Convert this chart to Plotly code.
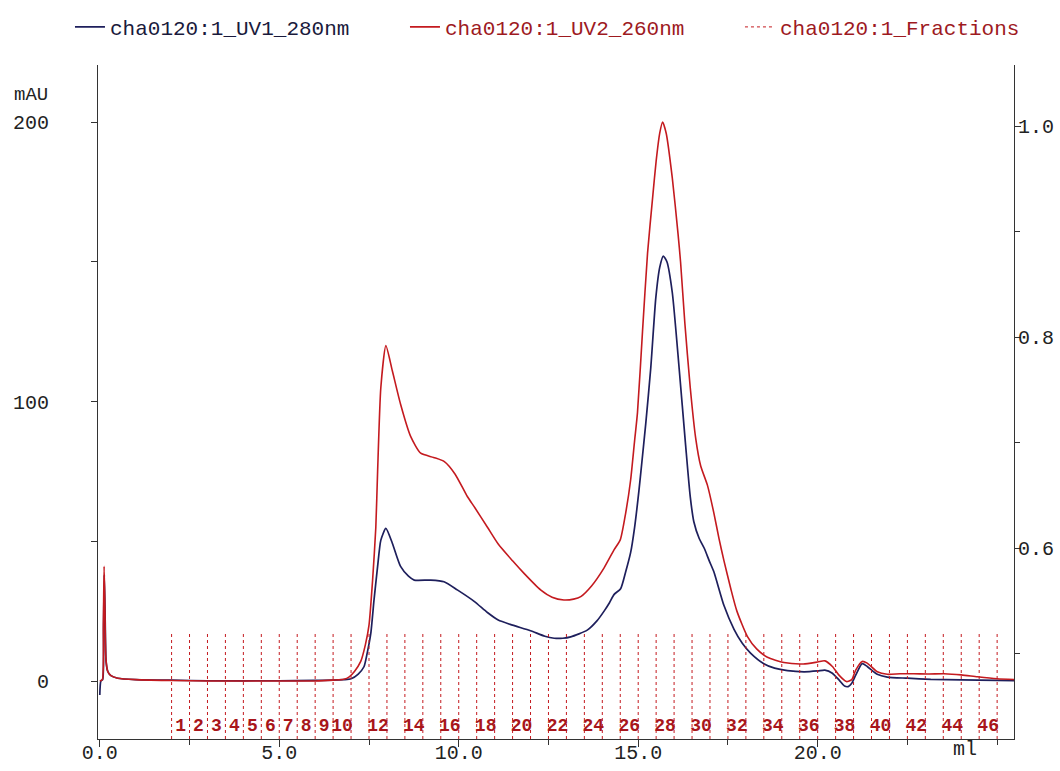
import plotly.graph_objects as go

# ---------------- data ----------------
# UV1 280 nm trace (blue): elution volume (ml) and absorbance (mAU)
uv1_ml = [0.0, 0.03, 0.08, 0.105, 0.125, 0.15, 0.175, 0.22, 0.3, 0.5, 1.0, 2.0, 3.0, 5.0, 6.0,
          6.5, 6.8, 7.0, 7.2, 7.36, 7.45, 7.55, 7.64, 7.74, 7.83, 7.97, 8.15, 8.38, 8.6, 8.76,
          9.22, 9.59, 9.96, 10.43, 10.8, 11.1, 11.5, 12.0, 12.4, 12.66, 12.9, 13.12, 13.58,
          13.85, 14.05, 14.2, 14.33, 14.51, 14.65, 14.79, 14.9, 15.02, 15.1, 15.21, 15.35,
          15.49, 15.6, 15.7, 15.8, 15.95, 16.14, 16.32, 16.45, 16.55, 16.7, 16.84, 16.98,
          17.11, 17.39, 17.67, 17.9, 18.13, 18.5, 18.8, 19.16, 19.62, 20.0, 20.2, 20.41,
          20.6, 20.75, 20.85, 20.95, 21.06, 21.24, 21.38, 21.66, 21.94, 22.5, 23.15, 24.0,
          25.0, 25.5]
uv1_mau = [-5, 0, 0.5, 20, 38, 22, 7, 3.5, 2, 1, 0.5, 0.3, 0.1, 0.1, 0.2,
           0.3, 0.5, 0.8, 2.5, 5.1, 10, 17, 29, 41, 50.4, 54.6, 49.3, 41, 37.5, 36.1,
           36.1, 35.5, 32.6, 28.5, 24.5, 21.8, 20, 18, 16, 15.3, 15.3, 15.8, 18.2,
           21.5, 25, 28, 31, 33, 39, 46, 55, 68, 78, 92, 112,
           137, 148, 152, 150, 139, 112, 84.5, 66, 57, 51, 47.5, 43,
           39, 27, 18.5, 13.5, 10, 6.2, 4.6, 3.7, 3.3, 3.6, 3.9, 2.8,
           0.3, -1.8, -2, -0.8, 2.1, 6.2, 5.2, 2.4, 1.4, 1.0, 0.6, 0.4,
           0.2, 0.1]

# UV2 260 nm trace (red)
uv2_ml = [0.0, 0.07, 0.10, 0.12, 0.145, 0.17, 0.22, 0.3, 0.5, 1.0, 2.0, 3.0, 5.0, 6.0, 6.5,
          6.8, 6.95, 7.1, 7.27, 7.4, 7.5, 7.6, 7.69, 7.74, 7.83, 7.97, 8.15, 8.38, 8.66,
          8.94, 9.3, 9.6, 9.9, 10.24, 10.45, 10.8, 11.1, 11.5, 11.82, 12.28, 12.6, 12.93,
          13.2, 13.4, 13.7, 14.05, 14.33, 14.5, 14.65, 14.79, 14.9, 14.98, 15.12, 15.26,
          15.41, 15.5, 15.6, 15.68, 15.78, 15.95, 16.11, 16.18, 16.3, 16.45, 16.6, 16.74,
          16.93, 17.11, 17.25, 17.39, 17.58, 17.75, 18.04, 18.3, 18.6, 19.06, 19.6, 20.0,
          20.2, 20.41, 20.6, 20.8, 20.95, 21.06, 21.24, 21.38, 21.66, 21.94, 22.3, 22.68,
          23.1, 23.52, 24.0, 24.45, 25.0, 25.5]
uv2_mau = [0, 0.5, 20, 41, 25, 8, 3.5, 2, 1, 0.5, 0.2, 0, 0, 0, 0.3,
           0.6, 1.5, 3.5, 7, 13, 20, 36, 55, 75, 105, 120, 111, 99, 87.5,
           81.5, 80, 78.5, 74, 66, 62, 55, 49, 43, 38.5, 32.6, 30, 29,
           29.3, 30.2, 34, 40.5, 47, 50.5, 60, 72, 86, 96, 125, 153,
           174, 186, 196, 200, 196, 180, 160, 150, 128, 105, 87, 77,
           70, 60, 51, 43, 33, 25, 16, 11.5, 8.5, 6.6, 6.1, 6.8,
           7.2, 5.2, 2, -0.2, 0.5, 3.9, 7, 6.4, 3.3, 2.4, 2.6, 2.6,
           2.5, 2.6, 2.2, 1.5, 0.8, 0.5]

# Fraction boundaries (ml) and the fraction numbers printed under them
fraction_start_ml = [2.0, 2.5, 3.0, 3.5, 4.0, 4.5, 5.0, 5.5, 6.0, 6.5, 7.0, 7.5, 8.0, 8.5,
                     9.0, 9.5, 10.0, 10.5, 11.0, 11.5, 12.0, 12.5, 13.0, 13.5, 14.0, 14.5,
                     15.0, 15.5, 16.0, 16.5, 17.0, 17.5, 18.0, 18.5, 19.0, 19.5, 20.0, 20.5,
                     21.0, 21.5, 22.0, 22.5, 23.0, 23.5, 24.0, 24.5, 25.0]
fraction_labels = ["1", "2", "3", "4", "5", "6", "7", "8", "9", "10", "12", "14", "16", "18",
                   "20", "22", "24", "26", "28", "30", "32", "34", "36", "38", "40", "42",
                   "44", "46"]

x_tick_vals = [0, 5, 10, 15, 20]
x_tick_text = ["0.0", "5.0", "10.0", "15.0", "20.0"]
y_tick_vals = [0, 100, 200]
y2_tick_vals = [0.6, 0.8, 1.0]
y2_tick_text = ["0.6", "0.8", "1.0"]

# ---------------- styling ----------------
FONT = "Liberation Mono, Courier New, monospace"
BLUE = "#1e1f5c"
RED = "#c41a1f"
DARK_RED = "#9e1a1f"
AXIS = "#333333"
X_RANGE = [-0.05, 25.47]
Y_RANGE = [-20.75, 220.4]
Y2_RANGE = [0.419, 1.058]
FRAC_TOP = 0.52      # top of fraction marks, right-axis units
FRAC_LABEL_Y = 0.431  # fraction number row, right-axis units

# fraction marker segments
frac_x, frac_y = [], []
for s in fraction_start_ml:
    frac_x += [s, s, None]
    frac_y += [Y2_RANGE[0], FRAC_TOP, None]

lab_x = []
for lab in fraction_labels:
    n = int(lab)
    lab_x.append((fraction_start_ml[n - 1] + fraction_start_ml[n]) / 2)

fig = go.Figure()
fig.add_trace(go.Scatter(
    x=uv1_ml, y=uv1_mau, mode="lines", line=dict(color=BLUE, width=1.7, shape="spline", smoothing=0.6),
    name='<span style="color:#1a1a3c">cha0120:1_UV1_280nm</span>', yaxis="y"))
fig.add_trace(go.Scatter(
    x=uv2_ml, y=uv2_mau, mode="lines", line=dict(color=RED, width=1.6, shape="spline", smoothing=0.6),
    name="cha0120:1_UV2_260nm", yaxis="y"))
fig.add_trace(go.Scatter(
    x=frac_x, y=frac_y, mode="lines", line=dict(color=RED, width=1, dash="dot"),
    name="cha0120:1_Fractions", yaxis="y2", legendwidth=245))
fig.add_trace(go.Scatter(
    x=lab_x, y=[FRAC_LABEL_Y] * len(lab_x), mode="text", text=fraction_labels,
    textfont=dict(family=FONT, size=18, color="#a8161b", weight="bold"), showlegend=False,
    yaxis="y2", cliponaxis=False, hoverinfo="skip"))

fig.update_layout(
    width=1060, height=771,
    margin=dict(l=98, r=46, t=65, b=32, autoexpand=False),
    paper_bgcolor="white", plot_bgcolor="white",
    font=dict(family=FONT, size=20, color="#222222"),
    showlegend=True,
    legend=dict(orientation="h", xref="paper", yref="paper", x=-0.0306, y=1.056,
                xanchor="left", yanchor="middle", entrywidth=290,
                font=dict(family=FONT, size=21, color=DARK_RED),
                bgcolor="rgba(0,0,0,0)", traceorder="normal"),
    xaxis=dict(range=X_RANGE, tickvals=x_tick_vals, ticktext=x_tick_text, automargin=False,
               showline=True, linecolor=AXIS, linewidth=1, ticks="outside", ticklen=7,
               tickcolor=AXIS, showgrid=False, zeroline=False,
               minor=dict(dtick=2.5, tick0=0, ticks="outside", ticklen=5, tickcolor=AXIS),
               tickfont=dict(family=FONT, size=20, color="#222222"), ticklabelstandoff=-12),
    yaxis=dict(range=Y_RANGE, tickvals=y_tick_vals, showline=True, linecolor=AXIS, linewidth=1,
               automargin=False,
               ticks="outside", ticklen=6, tickcolor=AXIS, showgrid=False, zeroline=False,
               minor=dict(dtick=50, tick0=0, ticks="outside", ticklen=6, tickcolor=AXIS),
               tickfont=dict(family=FONT, size=20, color="#222222"), ticklabelstandoff=38),
    yaxis2=dict(range=Y2_RANGE, tickvals=y2_tick_vals, ticktext=y2_tick_text, automargin=False,
                overlaying="y", side="right", anchor="x", showline=True, linecolor=AXIS,
                linewidth=1, ticks="outside", ticklen=6, tickcolor=AXIS, showgrid=False,
                zeroline=False,
                minor=dict(dtick=0.1, tick0=0, ticks="outside", ticklen=5, tickcolor=AXIS),
                tickfont=dict(family=FONT, size=20, color="#222222"), ticklabelstandoff=-7),
    annotations=[
        dict(text="mAU", xref="paper", yref="paper", x=-0.094, y=0.955, xanchor="left",
             yanchor="middle", showarrow=False, font=dict(family=FONT, size=19, color="#222222")),
        dict(text="ml", xref="x", yref="paper", x=24.1, y=-0.015, xanchor="center",
             yanchor="middle", showarrow=False, font=dict(family=FONT, size=20, color="#222222")),
    ],
)

fig.write_html("out.html", config={"displayModeBar": False},
               post_script="document.body.style.margin='0';")
